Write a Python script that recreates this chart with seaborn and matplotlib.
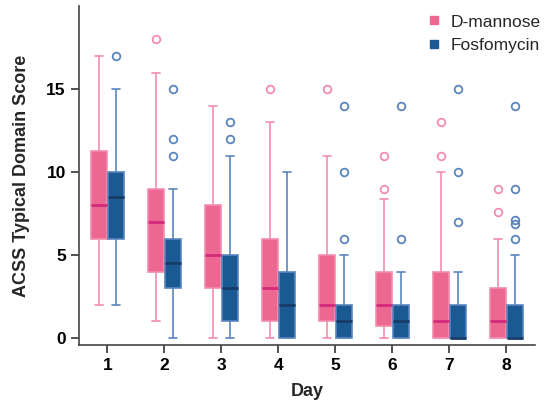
import pandas as pd
import numpy as np
import matplotlib
matplotlib.use("Agg")
import matplotlib.pyplot as plt
from matplotlib.lines import Line2D
import seaborn as sns

# ---------------------------------------------------------
# box summaries (per day)
# ---------------------------------------------------------
days = [1, 2, 3, 4, 5, 6, 7, 8]
drugs = ["D-mannose", "Fosfomycin"]

mannose_low = [2, 1, 0, 0, 0, 0, 0, 0]
mannose_q1 = [6, 4, 3, 1, 1, 0.75, 0, 0]
mannose_median = [8, 7, 5, 3, 2, 2, 1, 1]
mannose_q3 = [11.3, 9, 8, 6, 5, 4, 4, 3]
mannose_high = [17, 16, 14, 13, 11, 8.4, 10, 6]
mannose_outliers = [[], [18], [], [15], [15], [9, 11], [11, 13], [7.6, 9]]

fosfo_low = [2, 0, 0, 0, 0, 0, 0, 0]
fosfo_q1 = [6, 3, 1, 0, 0, 0, 0, 0]
fosfo_median = [8.5, 4.5, 3, 2, 1, 1, 0, 0]
fosfo_q3 = [10, 6, 5, 4, 2, 2, 2, 2]
fosfo_high = [15, 9, 11, 10, 5, 4, 4, 5]
fosfo_outliers = [[17], [11, 12, 15], [12, 13], [], [6, 10, 14], [6, 14],
                  [7, 10, 15], [6, 6.9, 7.1, 9, 14]]

pink_fill, pink_line, pink_med = "#EC6892", "#F38DAE", "#D42A7A"
blue_fill, blue_line, blue_med = "#1B5993", "#5A85BD", "#163C68"


# rebuild a sample whose quartiles / whiskers / fliers give the same box
def expand(lo, q1, med, q3, hi, outs, m=6):
    k = len(outs)
    return [lo] * m + [q1] * m + [med] * m + [q3] * (m - k) + [hi] + sorted(outs)


rows = []
stats = {
    "D-mannose": (mannose_low, mannose_q1, mannose_median, mannose_q3, mannose_high, mannose_outliers),
    "Fosfomycin": (fosfo_low, fosfo_q1, fosfo_median, fosfo_q3, fosfo_high, fosfo_outliers),
}
for drug, (lo, q1, md, q3, hi, outs) in stats.items():
    for i, d in enumerate(days):
        for v in expand(lo[i], q1[i], md[i], q3[i], hi[i], outs[i]):
            rows.append({"Day": d, "Score": v, "Drug": drug})
df = pd.DataFrame(rows)

# ---------------------------------------------------------
# plot
# ---------------------------------------------------------
sns.set_style("ticks")
plt.rcParams["font.family"] = ["Liberation Sans", "DejaVu Sans"]

fig = plt.figure(figsize=(5.5, 4.11), dpi=100)
ax = fig.add_axes([0.1436, 0.1606, 0.829, 0.824])

palette = {"D-mannose": pink_fill, "Fosfomycin": blue_fill}
styles = {
    "D-mannose": (pink_line, pink_med),
    "Fosfomycin": (blue_line, blue_med),
}
for drug, (line, med) in styles.items():
    sns.boxplot(
        data=df[df["Drug"] == drug], x="Day", y="Score", hue="Drug",
        order=days, hue_order=drugs, palette=palette, saturation=1,
        width=0.6, gap=0.1, dodge=True, linecolor=line, linewidth=1.2,
        medianprops=dict(color=med, linewidth=2),
        flierprops=dict(marker="o", markerfacecolor="none", markeredgecolor=line,
                        markeredgewidth=1.3, markersize=5.5),
        legend=False, ax=ax,
    )

ax.set_xlim(-0.5, 7.5)
ax.set_ylim(-0.42, 20)
ax.set_yticks([0, 5, 10, 15])
ax.set_xlabel("Day", fontsize=13, fontweight="bold", labelpad=7)
ax.set_ylabel("ACSS Typical Domain Score", fontsize=13, fontweight="bold", labelpad=12)
ax.tick_params(axis="both", labelsize=12.5, colors="#333333", length=6, width=1.2)
for t in ax.get_xticklabels() + ax.get_yticklabels():
    t.set_fontweight("bold")
    t.set_color("black")
sns.despine(ax=ax)
for s in ["left", "bottom"]:
    ax.spines[s].set_color("#444444")
    ax.spines[s].set_linewidth(1.2)

handles = [Line2D([], [], marker="s", linestyle="none", markersize=6,
                  markerfacecolor=c, markeredgecolor=c) for c in (pink_fill, blue_fill)]
ax.legend(handles, drugs, loc="upper right", bbox_to_anchor=(1.012, 1.003),
          bbox_transform=fig.transFigure, frameon=False, fontsize=12.5,
          handlelength=0.8, handletextpad=0.55, labelspacing=0.5)

fig.savefig("out.png", dpi=100)
